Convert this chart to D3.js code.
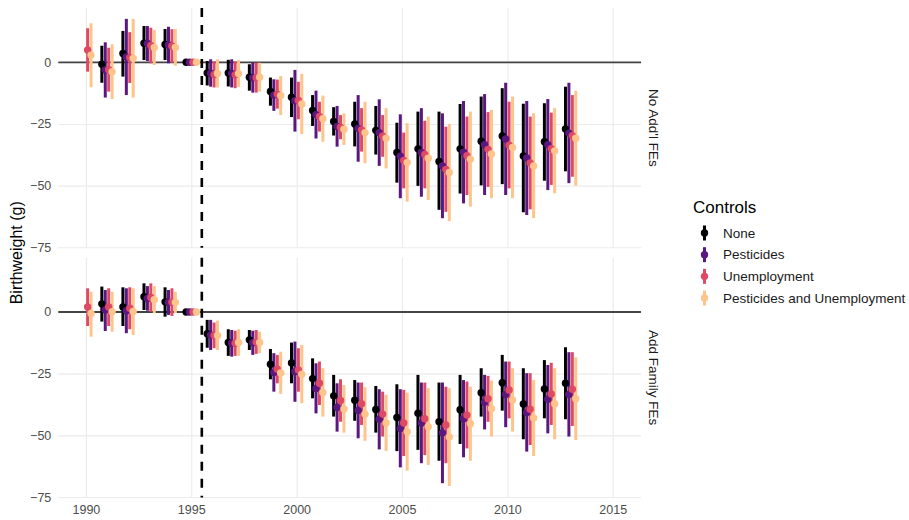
<!DOCTYPE html>
<html>
<head>
<meta charset="utf-8">
<script src="https://cdn.jsdelivr.net/npm/d3@7"></script>
<style>
  html, body { margin: 0; padding: 0; background: #ffffff; }
  svg { display: block; font-family: "Liberation Sans", Arial, Helvetica, sans-serif; }
</style>
</head>
<body>
<svg id="chart" width="909" height="520"></svg>
<script>
// ---- categories & ticks ----
const years = [1990, 1991, 1992, 1993, 1994, 1995, 1996, 1997, 1998, 1999, 2000, 2001,
               2002, 2003, 2004, 2005, 2006, 2007, 2008, 2009, 2010, 2011, 2012, 2013];
const controls = ["None", "Pesticides", "Unemployment", "Pesticides and Unemployment"];
const panels = ["No Add'l FEs", "Add Family FEs"];
const xTicks = [1990, 1995, 2000, 2005, 2010, 2015];
const yTicks = [0, -25, -50, -75];
const policyYear = 1995.5;

// ---- No Add'l FEs: estimates and 95% interval ends (g) ----
const noFE_none_est = [null, -0.8, 3.6, 7.7, 7.2, 0, -4.3, -4.3, -6.1, -11.8, -14.2, -19.5, -24.0, -25.0, -27.6, -36.6, -35.1, -40.2, -35.1, -32.0, -29.9, -38.0, -32.2, -27.0];
const noFE_none_hi  = [null, 6.7, 12.7, 14.7, 13.5, 0, 0.5, 1.0, -0.8, -6.2, -6.2, -13.3, -18.2, -16.0, -17.7, -24.5, -20.0, -20.0, -16.9, -13.9, -10.5, -16.8, -16.6, -9.9];
const noFE_none_lo  = [null, -8.3, -5.8, 0.9, 0.9, 0, -9.4, -9.8, -11.5, -17.6, -22.2, -25.8, -29.7, -34.1, -37.4, -48.8, -50.1, -59.8, -53.2, -49.9, -49.4, -60.8, -48.0, -44.2];

const noFE_pest_est = [null, -3.1, 2.2, 7.6, 7.0, 0, -4.4, -4.5, -6.3, -13.3, -15.6, -21.2, -26.0, -26.8, -28.5, -38.1, -36.6, -42.0, -36.5, -33.4, -31.1, -38.8, -33.4, -28.7];
const noFE_pest_hi  = [null, 8.1, 17.6, 14.7, 14.4, 0, 1.2, 1.2, -0.2, -6.9, -3.1, -11.5, -17.7, -13.3, -15.0, -21.1, -18.6, -20.7, -15.7, -12.9, -8.3, -15.7, -14.9, -8.3];
const noFE_pest_lo  = [null, -14.3, -13.3, 0.5, -0.4, 0, -9.9, -10.2, -12.3, -19.7, -28.1, -30.9, -34.2, -40.3, -42.0, -55.1, -54.5, -63.2, -57.2, -53.8, -53.8, -61.9, -51.8, -49.0];

const noFE_unemp_est = [5.0, -3.0, 1.9, 6.8, 6.6, 0, -5.0, -5.1, -6.3, -12.9, -15.5, -22.0, -26.3, -27.4, -29.9, -39.8, -37.4, -43.4, -37.9, -35.3, -33.6, -40.8, -35.0, -29.8];
const noFE_unemp_hi  = [13.8, 5.9, 12.2, 14.0, 13.4, 0, 0.3, 0.3, -0.2, -7.0, -7.9, -16.0, -21.4, -18.6, -21.4, -28.5, -23.7, -26.1, -22.0, -20.2, -16.0, -22.0, -20.4, -13.3];
const noFE_unemp_lo  = [-3.8, -11.9, -8.4, -0.4, -0.2, 0, -10.2, -10.5, -12.3, -18.8, -23.1, -28.1, -31.2, -36.2, -38.3, -51.1, -51.1, -60.6, -53.8, -50.5, -51.1, -59.6, -49.7, -46.4];

const noFE_both_est = [2.9, -3.8, 1.6, 6.0, 6.0, 0, -4.5, -4.6, -6.1, -13.5, -16.9, -22.9, -27.1, -28.5, -30.8, -40.6, -38.9, -44.7, -39.3, -37.2, -34.5, -42.0, -35.9, -30.8];
const noFE_both_hi  = [15.8, 7.3, 17.6, 13.1, 13.5, 0, 1.2, 0.9, -0.2, -5.6, -4.7, -13.5, -20.7, -16.0, -18.6, -24.7, -22.0, -25.0, -20.0, -19.3, -13.9, -20.7, -18.6, -11.6];
const noFE_both_lo  = [-10.1, -14.9, -14.3, -1.1, -1.4, 0, -10.2, -10.0, -11.9, -21.4, -29.1, -32.2, -33.5, -40.9, -43.0, -56.5, -55.8, -64.4, -58.5, -55.1, -55.1, -63.2, -53.1, -50.0];

// ---- Add Family FEs ----
const famFE_none_est = [null, 3.3, 2.0, 6.2, 4.1, 0, -8.8, -12.4, -11.3, -21.2, -20.7, -27.0, -34.0, -35.8, -39.5, -42.8, -41.0, -44.5, -39.6, -32.7, -28.7, -37.3, -31.2, -28.9];
const famFE_none_hi  = [null, 10.3, 10.0, 11.6, 10.0, 0, -3.2, -7.0, -7.3, -15.0, -12.4, -18.8, -25.5, -27.6, -30.0, -29.3, -25.5, -28.6, -25.5, -22.8, -17.4, -22.8, -19.5, -14.3];
const famFE_none_lo  = [null, -3.9, -5.7, 0.8, -1.9, 0, -14.5, -17.8, -15.4, -27.3, -28.9, -35.0, -42.4, -44.1, -48.9, -56.4, -55.9, -60.3, -53.5, -42.4, -40.0, -51.6, -43.1, -43.5];

const famFE_pest_est = [null, 0.8, 0.5, 5.5, 3.9, 0, -9.3, -12.7, -12.5, -24.5, -24.2, -31.0, -38.7, -39.9, -43.5, -47.2, -45.0, -49.0, -43.3, -36.6, -33.4, -40.7, -35.4, -33.4];
const famFE_pest_hi  = [null, 8.9, 9.6, 10.5, 8.9, 0, -3.2, -7.3, -7.6, -16.7, -12.0, -20.8, -28.9, -28.6, -31.3, -31.3, -28.6, -28.6, -27.6, -25.5, -20.1, -24.8, -21.5, -16.3];
const famFE_pest_lo  = [null, -7.7, -8.6, 0.5, -1.2, 0, -15.4, -18.1, -17.4, -32.3, -36.4, -41.1, -48.5, -51.2, -55.7, -63.0, -61.3, -69.4, -58.9, -47.6, -46.7, -56.6, -49.2, -50.5];

const famFE_unemp_est = [2.0, 2.0, 1.5, 5.9, 4.0, 0, -9.5, -12.7, -12.2, -23.2, -23.5, -28.9, -35.9, -37.2, -41.4, -45.0, -43.3, -45.8, -41.8, -35.2, -31.6, -39.4, -33.2, -31.3];
const famFE_unemp_hi  = [9.6, 9.6, 10.0, 11.6, 9.6, 0, -4.3, -7.6, -7.3, -17.4, -14.7, -20.1, -27.3, -28.6, -32.3, -31.6, -28.6, -30.3, -28.2, -25.9, -20.1, -24.8, -20.6, -16.3];
const famFE_unemp_lo  = [-5.7, -5.7, -7.0, 0.1, -1.6, 0, -14.7, -17.8, -17.0, -28.9, -32.3, -37.7, -44.5, -45.8, -50.5, -58.4, -58.0, -61.3, -55.3, -44.5, -43.1, -53.9, -45.8, -46.2];

const famFE_both_est = [-0.6, 0.1, 0.2, 5.0, 3.9, 0, -9.5, -12.4, -12.4, -24.7, -25.2, -32.6, -39.3, -41.4, -45.0, -48.5, -46.5, -50.7, -45.3, -39.2, -35.7, -43.0, -37.2, -35.2];
const famFE_both_hi  = [8.2, 8.2, 9.6, 10.5, 8.2, 0, -3.5, -7.0, -8.0, -16.1, -13.4, -22.8, -29.6, -30.5, -33.6, -32.7, -30.9, -30.9, -30.3, -27.8, -22.8, -27.6, -22.8, -18.4];
const famFE_both_lo  = [-10.0, -8.0, -9.3, -0.5, -0.5, 0, -15.4, -17.8, -16.7, -33.2, -37.0, -42.4, -48.9, -52.2, -56.3, -64.3, -62.0, -70.5, -60.3, -50.5, -48.5, -58.4, -51.6, -51.9];

// ---- assemble long-format rows ----
const seriesDefs = [
  [0, 0, noFE_none_est, noFE_none_lo, noFE_none_hi],
  [0, 1, noFE_pest_est, noFE_pest_lo, noFE_pest_hi],
  [0, 2, noFE_unemp_est, noFE_unemp_lo, noFE_unemp_hi],
  [0, 3, noFE_both_est, noFE_both_lo, noFE_both_hi],
  [1, 0, famFE_none_est, famFE_none_lo, famFE_none_hi],
  [1, 1, famFE_pest_est, famFE_pest_lo, famFE_pest_hi],
  [1, 2, famFE_unemp_est, famFE_unemp_lo, famFE_unemp_hi],
  [1, 3, famFE_both_est, famFE_both_lo, famFE_both_hi]
];
const rows = [];
seriesDefs.forEach(([p, c, est, lo, hi]) => {
  years.forEach((yr, i) => {
    if (est[i] === null) return;
    rows.push({ panel: p, control: controls[c], year: yr, est: est[i], lo: lo[i], hi: hi[i] });
  });
});

// ---- layout ----
const svg = d3.select("#chart");
const plotLeft = 58.3, plotRight = 641;
const panelBoxes = [
  { top: 8, bottom: 247.8 },
  { top: 257.7, bottom: 497.5 }
];

const color = d3.scaleOrdinal()
  .domain(controls)
  .range(["#000004", "#5b1780", "#de4a66", "#fdc48c"]);

const x = d3.scaleLinear().domain([1988.69, 2016.34]).range([plotLeft, plotRight]);
const dodge = d3.scalePoint().domain(controls).range([-0.244, 0.244]);

const grid = "#ebebeb";
const tickText = "#4d4d4d";

panelBoxes.forEach((box, pi) => {
  const y = d3.scaleLinear().domain([-75.2, 22]).range([box.bottom, box.top]);
  const g = svg.append("g");

  // horizontal gridlines + y tick labels
  const yAxis = g.append("g")
    .attr("transform", `translate(${plotLeft},0)`)
    .call(d3.axisLeft(y).tickValues(yTicks).tickSize(-(plotRight - plotLeft)).tickPadding(7).tickFormat(d3.format("d")));
  yAxis.select(".domain").remove();
  yAxis.selectAll(".tick line").attr("stroke", grid).attr("stroke-width", 1.1);
  yAxis.selectAll(".tick text").attr("fill", tickText).style("font-size", "12.5px");

  // vertical gridlines (labels only under the bottom panel)
  const xAxis = g.append("g")
    .attr("transform", `translate(0,${box.bottom})`)
    .call(d3.axisBottom(x).tickValues(xTicks).tickSize(-(box.bottom - box.top)).tickPadding(8).tickFormat(d3.format("d")));
  xAxis.select(".domain").remove();
  xAxis.selectAll(".tick line").attr("stroke", grid).attr("stroke-width", 1.1);
  xAxis.selectAll(".tick text")
    .attr("fill", tickText).style("font-size", "12.5px")
    .style("display", pi === panelBoxes.length - 1 ? null : "none");

  // zero reference line
  g.append("line")
    .attr("x1", plotLeft).attr("x2", plotRight)
    .attr("y1", y(0)).attr("y2", y(0))
    .attr("stroke", "#444").attr("stroke-width", 1.8);

  // policy year marker
  g.append("line")
    .attr("x1", x(policyYear)).attr("x2", x(policyYear))
    .attr("y1", box.top).attr("y2", box.bottom)
    .attr("stroke", "#000").attr("stroke-width", 2.6)
    .attr("stroke-dasharray", "9,8");

  const data = rows.filter(r => r.panel === pi);
  const px = d => x(d.year + dodge(d.control));

  // interval ranges first, then points
  g.append("g").selectAll("line").data(data).join("line")
    .attr("x1", px).attr("x2", px)
    .attr("y1", d => y(d.lo)).attr("y2", d => y(d.hi))
    .attr("stroke", d => color(d.control))
    .attr("stroke-width", 3);

  g.append("g").selectAll("circle").data(data).join("circle")
    .attr("cx", px).attr("cy", d => y(d.est))
    .attr("r", 3.7)
    .attr("fill", d => color(d.control));

  // facet strip label
  g.append("text")
    .attr("transform", `translate(653,${(box.top + box.bottom) / 2}) rotate(90)`)
    .attr("text-anchor", "middle")
    .attr("dominant-baseline", "central")
    .attr("fill", "#1a1a1a")
    .style("font-size", "13.5px")
    .text(panels[pi]);
});

// y axis title
svg.append("text")
  .attr("transform", `translate(16,${(panelBoxes[0].top + panelBoxes[1].bottom) / 2}) rotate(-90)`)
  .attr("text-anchor", "middle")
  .attr("dominant-baseline", "central")
  .attr("fill", "#000")
  .style("font-size", "16px")
  .text("Birthweight (g)");

// legend
const legend = svg.append("g").attr("transform", "translate(693,0)");
legend.append("text")
  .attr("x", 0).attr("y", 213)
  .attr("fill", "#000")
  .style("font-size", "17px")
  .text("Controls");

const legendY = d3.scalePoint().domain(controls).range([233, 298]);
const item = legend.selectAll("g.item").data(controls).join("g")
  .attr("class", "item")
  .attr("transform", d => `translate(0,${legendY(d)})`);
item.append("line")
  .attr("x1", 11.5).attr("x2", 11.5).attr("y1", -7.5).attr("y2", 7.5)
  .attr("stroke", d => color(d)).attr("stroke-width", 3);
item.append("circle")
  .attr("cx", 11.5).attr("cy", 0).attr("r", 3.7)
  .attr("fill", d => color(d));
item.append("text")
  .attr("x", 30).attr("y", 0)
  .attr("dominant-baseline", "central")
  .attr("fill", "#1a1a1a")
  .style("font-size", "13.5px")
  .text(d => d);
</script>
</body>
</html>
